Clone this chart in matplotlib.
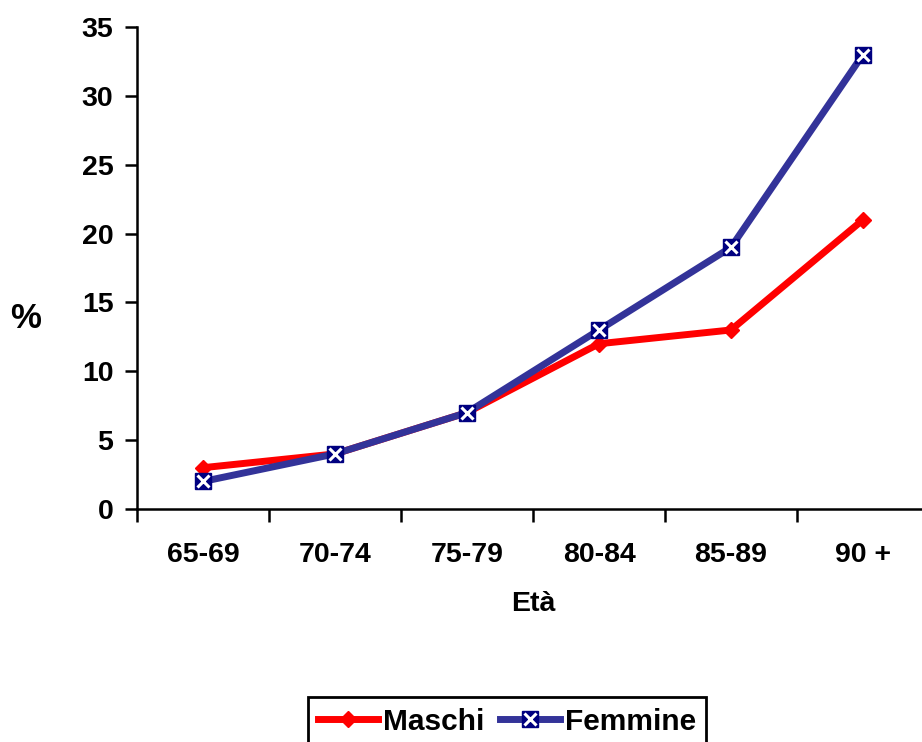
import matplotlib
matplotlib.use("Agg")
import matplotlib.pyplot as plt
from matplotlib.ticker import FixedLocator, NullFormatter
from matplotlib.lines import Line2D

plt.rcParams['font.family'] = ['Liberation Sans', 'DejaVu Sans']
plt.rcParams['font.weight'] = 'bold'

categories = ["65-69", "70-74", "75-79", "80-84", "85-89", "90 +"]
maschi = [3, 4, 7, 12, 13, 21]
femmine = [2, 4, 7, 13, 19, 33]
y_ticks = [0, 5, 10, 15, 20, 25, 30, 35]

RED = '#ff0000'
BLUE = '#333399'
NAVY = '#000080'

fig = plt.figure(figsize=(9.22, 7.42), dpi=100)
W, H = 922, 742
left, right, top, bottom = 137, 929, 27, 509
ax = fig.add_axes([left / W, 1 - bottom / H, (right - left) / W, (bottom - top) / H])

x = list(range(len(categories)))
ax.plot(x, maschi, color=RED, lw=5, marker='D', ms=8,
        markerfacecolor=RED, markeredgecolor=RED, label='Maschi',
        solid_joinstyle='round', solid_capstyle='round', zorder=3)
ax.plot(x, femmine, color=BLUE, lw=5, marker='s', ms=11.5,
        markerfacecolor=NAVY, markeredgecolor=NAVY, label='Femmine',
        solid_joinstyle='round', solid_capstyle='round', zorder=4)
ax.plot(x, femmine, ls='none', marker='x', ms=8.5, mew=2.2, color='white', zorder=5)

ax.set_xlim(-0.5, len(categories) - 0.5)
ax.set_ylim(0, 35)
ax.set_yticks(y_ticks)
ax.set_xticks(x)
ax.set_xticklabels(categories)
ax.tick_params(axis='x', length=0, pad=24, labelsize=20.5)
ax.xaxis.set_minor_locator(FixedLocator([i - 0.5 for i in range(len(categories) + 1)]))
ax.xaxis.set_minor_formatter(NullFormatter())
ax.tick_params(axis='x', which='minor', length=9, width=1.8, direction='out')
ax.tick_params(axis='y', length=9, width=1.8, direction='out', labelsize=20.5, pad=8)

for s in ['top', 'right']:
    ax.spines[s].set_visible(False)
for s in ['left', 'bottom']:
    ax.spines[s].set_linewidth(1.8)

ax.set_xlabel("Età", fontsize=20.5, fontweight='bold', labelpad=16.5)
ax.set_ylabel("%", fontsize=25, fontweight='bold', rotation=0, va='center', ha='center')
ax.yaxis.set_label_coords(-111 / (right - left), (bottom - 318) / (bottom - top))

h_m = Line2D([], [], color=RED, lw=5, marker='D', ms=8)
h_f = Line2D([], [], color=BLUE, lw=5, marker='s', ms=11.5,
             markerfacecolor=NAVY, markeredgecolor=NAVY)
h_fx = Line2D([], [], ls='none', marker='x', ms=8.5, mew=2.2, color='white')
leg = fig.legend([h_m, (h_f, h_fx)], ["Maschi", "Femmine"], loc='lower left',
                 bbox_to_anchor=(308 / W, -4 / H), ncol=2, frameon=True,
                 fancybox=False, edgecolor='black', framealpha=1, fontsize=21.5,
                 handlelength=2.0, handletextpad=0.15, columnspacing=0.55,
                 borderpad=0.35, borderaxespad=0.0)
leg.get_frame().set_linewidth(2)

fig.savefig("out.png", dpi=100)
